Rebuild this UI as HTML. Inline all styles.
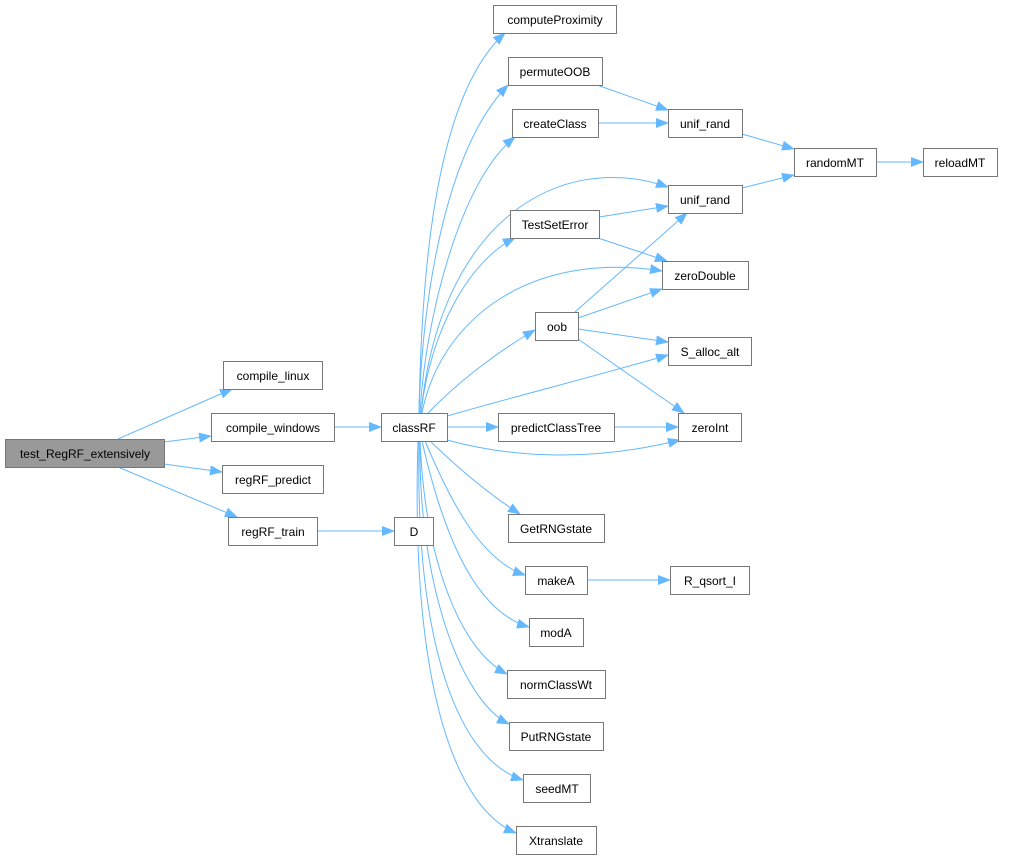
<!DOCTYPE html>
<html><head><meta charset="utf-8"><style>
html,body{margin:0;padding:0;background:#fff;}
svg{display:block;}
text{font-family:"Liberation Sans",sans-serif;font-size:12px;fill:#000;}
</style></head><body>
<svg width="1013" height="860" viewBox="0 0 1013 860" xmlns="http://www.w3.org/2000/svg">
<defs>
<marker id="a" markerWidth="13" markerHeight="10" refX="12" refY="5" orient="auto" markerUnits="userSpaceOnUse">
<path d="M0,0 L13,5 L0,10 z" fill="#63b8ff"/>
</marker>
</defs>
<g fill="none" stroke="#63b8ff" stroke-width="1" marker-end="url(#a)">
<path d="M118,439 L232,389"/>
<path d="M164,442 L211,436"/>
<path d="M164,464 L222,472"/>
<path d="M118,467 L237,517"/>
<path d="M334,427 L381,427"/>
<path d="M317,531 L394,531"/>
<path d="M419,413 C421,300 430,100 505,33"/>
<path d="M419,413 C422,300 445,150 508,85"/>
<path d="M420,413 C425,320 460,180 515,137"/>
<path d="M421,413 C440,220 560,150 668,187"/>
<path d="M421,413 C430,330 470,260 515,238"/>
<path d="M422,413 C440,320 530,250 662,271"/>
<path d="M428,413 C460,380 500,350 535,330"/>
<path d="M447,416 C520,395 600,375 668,355"/>
<path d="M447,427 L498,427"/>
<path d="M447,440 C520,460 600,460 680,440"/>
<path d="M430,441 C460,470 490,495 520,514"/>
<path d="M425,441 C450,500 480,560 525,575"/>
<path d="M422,441 C440,520 470,610 529,627"/>
<path d="M420,441 C425,560 460,650 507,674"/>
<path d="M420,441 C418,580 460,700 509,724"/>
<path d="M419,441 C415,650 460,760 523,780"/>
<path d="M418,441 C410,700 460,810 516,833"/>
<path d="M597,85 L668,110"/>
<path d="M598,123 L668,123"/>
<path d="M742,134 L794,149"/>
<path d="M742,188 L794,175"/>
<path d="M876,162 L923,162"/>
<path d="M599,217 L668,206"/>
<path d="M598,238 L667,261"/>
<path d="M575,312 L687,213"/>
<path d="M578,318 L662,289"/>
<path d="M578,329 L668,342"/>
<path d="M578,339 L684,413"/>
<path d="M614,427 L678,427"/>
<path d="M587,580 L670,580"/>
</g>
<g stroke="#777" stroke-width="1">
<rect x="5.5" y="439.5" width="159" height="28" fill="#999"/>
<g fill="#fff">
<rect x="223.5" y="361.5" width="99" height="28"/>
<rect x="211.5" y="413.5" width="123" height="28"/>
<rect x="222.5" y="465.5" width="101" height="28"/>
<rect x="228.5" y="517.5" width="89" height="28"/>
<rect x="381.5" y="413.5" width="66" height="28"/>
<rect x="394.5" y="517.5" width="39" height="28"/>
<rect x="493.5" y="5.5" width="123" height="28"/>
<rect x="508.5" y="57.5" width="94" height="28"/>
<rect x="512.5" y="109.5" width="86" height="28"/>
<rect x="668.5" y="109.5" width="74" height="28"/>
<rect x="794.5" y="148.5" width="82" height="28"/>
<rect x="923.5" y="148.5" width="74" height="28"/>
<rect x="668.5" y="185.5" width="74" height="28"/>
<rect x="510.5" y="210.5" width="89" height="28"/>
<rect x="662.5" y="261.5" width="86" height="28"/>
<rect x="535.5" y="312.5" width="43" height="28"/>
<rect x="668.5" y="337.5" width="83" height="28"/>
<rect x="498.5" y="413.5" width="116" height="28"/>
<rect x="678.5" y="413.5" width="63" height="28"/>
<rect x="508.5" y="514.5" width="96" height="28"/>
<rect x="525.5" y="566.5" width="62" height="28"/>
<rect x="670.5" y="566.5" width="79" height="28"/>
<rect x="529.5" y="618.5" width="54" height="28"/>
<rect x="507.5" y="670.5" width="98" height="28"/>
<rect x="509.5" y="722.5" width="94" height="28"/>
<rect x="523.5" y="774.5" width="67" height="28"/>
<rect x="516.5" y="826.5" width="80" height="28"/>
</g></g>
<g text-anchor="middle">
<text x="85" y="458">test_RegRF_extensively</text>
<text x="273" y="380">compile_linux</text>
<text x="273" y="432">compile_windows</text>
<text x="273" y="484">regRF_predict</text>
<text x="273" y="536">regRF_train</text>
<text x="414" y="432">classRF</text>
<text x="414" y="536">D</text>
<text x="555" y="24">computeProximity</text>
<text x="555" y="76">permuteOOB</text>
<text x="555" y="128">createClass</text>
<text x="705" y="128">unif_rand</text>
<text x="835" y="167">randomMT</text>
<text x="960" y="167">reloadMT</text>
<text x="705" y="204">unif_rand</text>
<text x="555" y="229">TestSetError</text>
<text x="705" y="280">zeroDouble</text>
<text x="557" y="331">oob</text>
<text x="710" y="356">S_alloc_alt</text>
<text x="556" y="432">predictClassTree</text>
<text x="710" y="432">zeroInt</text>
<text x="556" y="533">GetRNGstate</text>
<text x="556" y="585">makeA</text>
<text x="710" y="585">R_qsort_I</text>
<text x="556" y="637">modA</text>
<text x="556" y="689">normClassWt</text>
<text x="556" y="741">PutRNGstate</text>
<text x="557" y="793">seedMT</text>
<text x="556" y="845">Xtranslate</text>
</g>
</svg>
</body></html>
